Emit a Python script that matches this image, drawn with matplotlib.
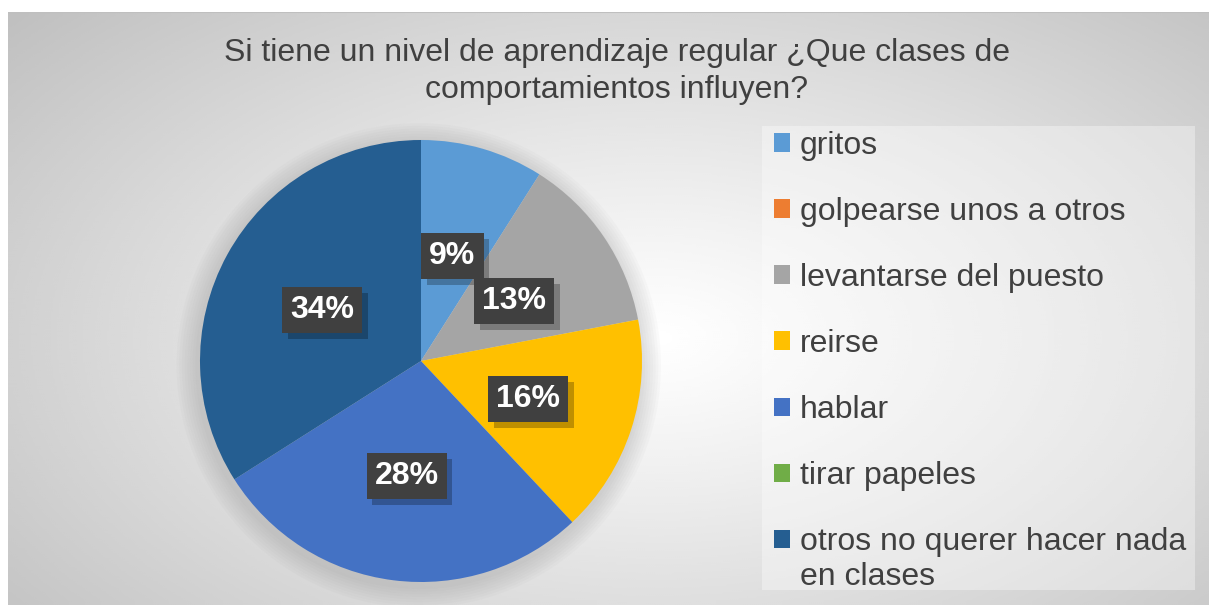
import numpy as np
import matplotlib
matplotlib.use("Agg")
import matplotlib.pyplot as plt
import matplotlib.patheffects as pe
from matplotlib.patches import Rectangle, Patch, Circle

plt.rcParams["font.family"] = ["Liberation Sans", "DejaVu Sans"]

# datos
categorias = ["gritos", "golpearse unos a otros", "levantarse del puesto",
              "reirse", "hablar", "tirar papeles",
              "otros no querer hacer nada\nen clases"]
porcentajes = [9, 0, 13, 16, 28, 0, 34]
colores = ["#5B9BD5", "#ED7D31", "#A5A5A5", "#FFC000",
           "#4472C4", "#70AD47", "#255E91"]
titulo = "Si tiene un nivel de aprendizaje regular ¿Que clases de\ncomportamientos influyen?"

W, H = 1209, 605
fig = plt.figure(figsize=(W / 100, H / 100), dpi=100)
fig.patch.set_facecolor("white")

# fondo con degradado radial
bg = fig.add_axes([8 / W, 0, 1 - 8 / W, 1 - 12 / H])
bg.set_axis_off()
yy, xx = np.mgrid[0:1:300j, 0:1:600j]
d = np.sqrt(((xx - 0.54) / 0.54) ** 2 + ((yy - 0.55) / 0.62) ** 2)
d = np.clip(d / d.max(), 0, 1)
grad = 1.0 - 0.25 * d ** 1.1
bg.imshow(grad, cmap="gray", vmin=0, vmax=1, extent=[0, 1, 0, 1],
          aspect="auto", interpolation="bicubic")
bg.set_xlim(0, 1)
bg.set_ylim(0, 1)
bg.plot([0, 1], [1, 1], color="#BFBFBF", lw=1.5)

# caja de la leyenda
fig.patches.append(Rectangle((762 / W, 1 - 590 / H), (1195 - 762) / W, (590 - 126) / H,
                             transform=fig.transFigure, facecolor="white",
                             alpha=0.35, edgecolor="none", zorder=1))

fig.text(617 / W, 1 - 38 / H, titulo, ha="center", va="top", fontsize=23,
         color="#404040", linespacing=1.32)

# pastel
cx, cy, r = 421, 361, 221
lim = 1.15
side = 2 * r * lim
ax = fig.add_axes([(cx - r * lim) / W, (H - cy - r * lim) / H, side / W, side / H])

for k in range(8):
    ax.add_patch(Circle((-0.01, -0.02), 1.0 + 0.012 * (k + 1), color="#808080",
                        alpha=0.035, lw=0, zorder=0))

wedges, _ = ax.pie(porcentajes, colors=colores, startangle=90, counterclock=False,
                   radius=1.0, wedgeprops=dict(linewidth=0))
ax.set_xlim(-lim, lim)
ax.set_ylim(-lim, lim)
ax.set_aspect("equal")
ax.set_axis_off()

total = sum(porcentajes)
for w, p in zip(wedges, porcentajes):
    if p == 0:
        continue
    ang = np.deg2rad((w.theta1 + w.theta2) / 2)
    t = ax.text(0.51 * np.cos(ang), 0.51 * np.sin(ang) - 0.015,
                f"{round(100 * p / total)}%",
                ha="center", va="center", fontsize=23, fontweight="bold",
                color="white", zorder=5,
                bbox=dict(boxstyle="square,pad=0.25", facecolor="#404040",
                          edgecolor="none"))
    t.get_bbox_patch().set_path_effects([
        pe.SimplePatchShadow(offset=(4, -4), shadow_rgbFace="black", alpha=0.25),
        pe.Normal()])

# leyenda: la segunda linea de la ultima etiqueta va debajo, alineada
etiquetas = [c.split("\n")[0] for c in categorias]
handles = [Patch(facecolor=c, edgecolor="none") for c in colores]
leg = fig.legend(handles, etiquetas, loc="upper left",
                 bbox_to_anchor=(761 / W, 1 - 118 / H), frameon=False,
                 fontsize=23, labelcolor="#404040", handlelength=0.52,
                 handleheight=0.52, handletextpad=0.3, labelspacing=1.13,
                 borderaxespad=0)
fig.canvas.draw()
ult = leg.get_texts()[-1]
bb = ult.get_window_extent()
for i, extra in enumerate(categorias[-1].split("\n")[1:]):
    fig.text(bb.x0 / W, (bb.y0 - 35 * (i + 1)) / H, extra, fontsize=23,
             color="#404040", ha="left", va="bottom")

fig.savefig("out.png", dpi=100)
